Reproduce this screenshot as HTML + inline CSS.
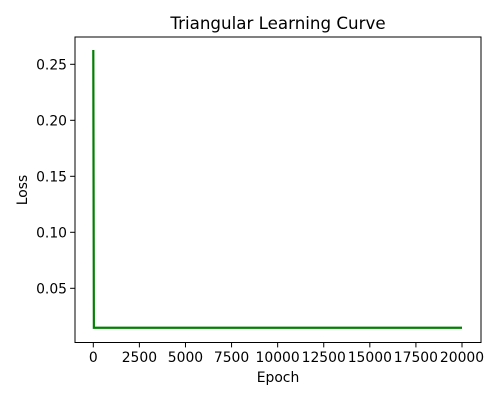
<!DOCTYPE html>
<html><head><meta charset="utf-8"><style>
body{margin:0;background:#fff;}
text{font-family:"DejaVu Sans","Liberation Sans",sans-serif;fill:#000;}
</style></head><body>
<svg id="chart" width="500" height="400" xmlns="http://www.w3.org/2000/svg">
<rect width="500" height="400" fill="#fff"/>
<text x="278" y="29" font-size="16.7" text-anchor="middle">Triangular Learning Curve</text>
<g id="plot"></g>
<rect x="75" y="37" width="406" height="305.5" fill="none" stroke="#000" stroke-width="1"/>
<text x="278" y="382" font-size="13.9" text-anchor="middle">Epoch</text>
<text transform="translate(27,190) rotate(-90)" font-size="13.9" text-anchor="middle">Loss</text>
</svg>
<script>
const epochs=[0,30,20000];
const losses=[0.2628,0.0148,0.0148];
const xTicks=[0,2500,5000,7500,10000,12500,15000,17500,20000];
const yTicks=[0.05,0.10,0.15,0.20,0.25];
const xs=v=>93.3+(v/20000)*(462-93.3);
const ys=v=>288.3-(v-0.05)/0.05*56;
const ns="http://www.w3.org/2000/svg";
const g=document.getElementById('plot');
function mk(t,a){const e=document.createElementNS(ns,t);for(const k in a)e.setAttribute(k,a[k]);g.appendChild(e);return e;}
xTicks.forEach(v=>{
 const l=mk('line',{x1:xs(v),x2:xs(v),y1:342.5,y2:347.4,stroke:'#000'});
 
 
 const t=mk('text',{x:xs(v),y:362,'font-size':13.9,'text-anchor':'middle'});
 t.textContent=v;
 
 
});
yTicks.forEach(v=>{
 const l=mk('line',{x1:70.1,x2:75,y1:ys(v),y2:ys(v),stroke:'#000'});
 
 
 const t=mk('text',{x:67,y:ys(v)+5,'font-size':13.9,'text-anchor':'end'});
 t.textContent=v.toFixed(2);
 
 
});
const p=mk('polyline',{points:epochs.map((e,i)=>xs(e)+','+ys(losses[i])).join(' '),fill:'none',stroke:'#008000','stroke-width':2.2});


</script>
</body></html>
